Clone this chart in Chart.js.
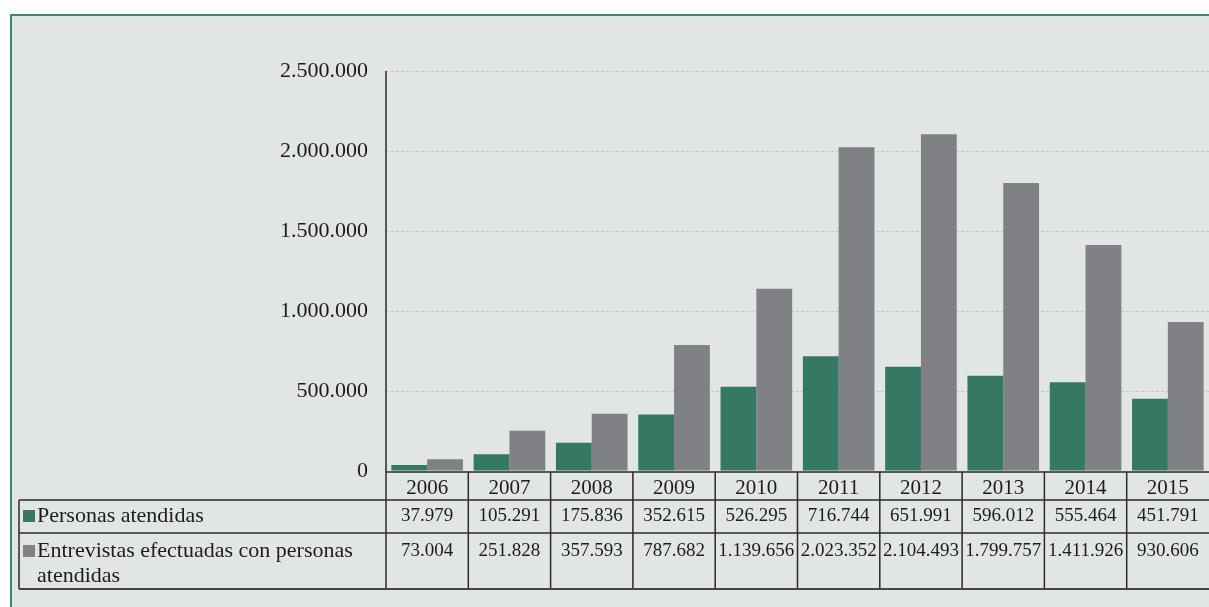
<!DOCTYPE html>
<html>
<head>
<meta charset="utf-8">
<script src="https://cdn.jsdelivr.net/npm/chart.js@4/dist/chart.umd.min.js"></script>
<style>
  body { margin: 0; background: #fff; overflow: hidden; }
  #panel { position: absolute; left: 10px; top: 14px; width: 1260px; height: 660px;
           background: #e1e5e3; border-left: 2px solid #3d8a6b; border-top: 2px solid #3d8a6b; }
  #c { position: absolute; left: 0; top: 0; }
</style>
</head>
<body>
<div id="panel"></div>
<canvas id="c" width="1209" height="607"></canvas>
<script>
"use strict";

var years = ['2006', '2007', '2008', '2009', '2010', '2011', '2012', '2013', '2014', '2015'];
var personas = [37979, 105291, 175836, 352615, 526295, 716744, 651991, 596012, 555464, 451791];
var entrevistas = [73004, 251828, 357593, 787682, 1139656, 2023352, 2104493, 1799757, 1411926, 930606];
var series_names = ['Personas atendidas', 'Entrevistas efectuadas con personas atendidas'];
var series_label_lines = [['Personas atendidas'], ['Entrevistas efectuadas con personas', 'atendidas']];
var y_max = 2500000;
var y_step = 500000;

var green = '#357863';
var gray = '#808185';
var ink = '#1c1c1c';
var font_family = '"Liberation Serif", "DejaVu Serif", serif';

function fmt(v) {
    return String(v).replace(/\B(?=(\d{3})+(?!\d))/g, '.');
}

// table under the plot, columns follow the x scale
var tablePlugin = {
    id: 'table',
    afterDraw: function(chart) {
        var ctx = chart.ctx;
        var xs = chart.scales.x;
        var area = chart.chartArea;
        var colW = xs.getPixelForValue(1) - xs.getPixelForValue(0);
        var top = area.bottom + 1;
        var row1 = 500, row2 = 533, bottom = 589, labelLeft = 19;
        var right = area.right;
        var colors = [green, gray];

        ctx.save();
        ctx.strokeStyle = '#2a2a2a';
        ctx.lineWidth = 1.5;
        ctx.beginPath();
        ctx.moveTo(area.left, top); ctx.lineTo(right, top);
        ctx.moveTo(labelLeft, row1); ctx.lineTo(right, row1);
        ctx.moveTo(labelLeft, row2); ctx.lineTo(right, row2);
        ctx.moveTo(labelLeft, row1); ctx.lineTo(labelLeft, bottom);
        ctx.moveTo(area.left, area.top); ctx.lineTo(area.left, bottom);
        for (var i = 1; i < years.length; i++) {
            var bx = xs.getPixelForValue(i) - colW / 2;
            ctx.moveTo(bx, top); ctx.lineTo(bx, bottom);
        }
        ctx.stroke();

        ctx.strokeStyle = '#444';
        ctx.lineWidth = 2;
        ctx.beginPath();
        ctx.moveTo(labelLeft, bottom); ctx.lineTo(right, bottom);
        ctx.stroke();

        ctx.fillStyle = ink;
        ctx.textBaseline = 'middle';
        ctx.textAlign = 'center';
        years.forEach(function(y, i) {
            var cx = xs.getPixelForValue(i);
            ctx.font = '21px ' + font_family;
            ctx.fillText(y, cx, 488);
            ctx.font = '19px ' + font_family;
            ctx.fillText(fmt(personas[i]), cx, 516);
            ctx.fillText(fmt(entrevistas[i]), cx, 551);
        });

        ctx.textAlign = 'left';
        ctx.font = '22px ' + font_family;
        var lineY = [[516], [551, 576]];
        series_label_lines.forEach(function(lines, r) {
            ctx.fillStyle = colors[r];
            ctx.fillRect(23, lineY[r][0] - 6, 12, 12);
            ctx.fillStyle = ink;
            lines.forEach(function(t, k) {
                ctx.fillText(t, 37, lineY[r][k]);
            });
        });
        ctx.restore();
    }
};

var chart = new Chart(document.getElementById('c').getContext('2d'), {
    type: 'bar',
    data: {
        labels: years,
        datasets: [{
            label: series_names[0],
            data: personas,
            backgroundColor: green
        }, {
            label: series_names[1],
            data: entrevistas,
            backgroundColor: gray
        }]
    },
    options: {
        responsive: false,
        devicePixelRatio: 1,
        animation: false,
        layout: { padding: { top: 71, bottom: 136, left: 0, right: 0 } },
        datasets: { bar: { categoryPercentage: 0.87, barPercentage: 1.0 } },
        plugins: { legend: { display: false }, tooltip: { enabled: false } },
        scales: {
            x: { display: false },
            y: {
                min: 0,
                max: y_max,
                afterFit: function(scale) { scale.width = 386; },
                ticks: {
                    stepSize: y_step,
                    padding: 18,
                    color: ink,
                    font: { family: font_family, size: 22 },
                    callback: function(v) { return fmt(v); }
                },
                grid: {
                    drawTicks: false,
                    color: function(c) { return c.tick && c.tick.value === 0 ? 'rgba(0,0,0,0)' : '#c3c7c7'; },
                    lineWidth: 1
                },
                border: { display: false, dash: [3, 2] }
            }
        }
    },
    plugins: [tablePlugin]
});
</script>
</body>
</html>
